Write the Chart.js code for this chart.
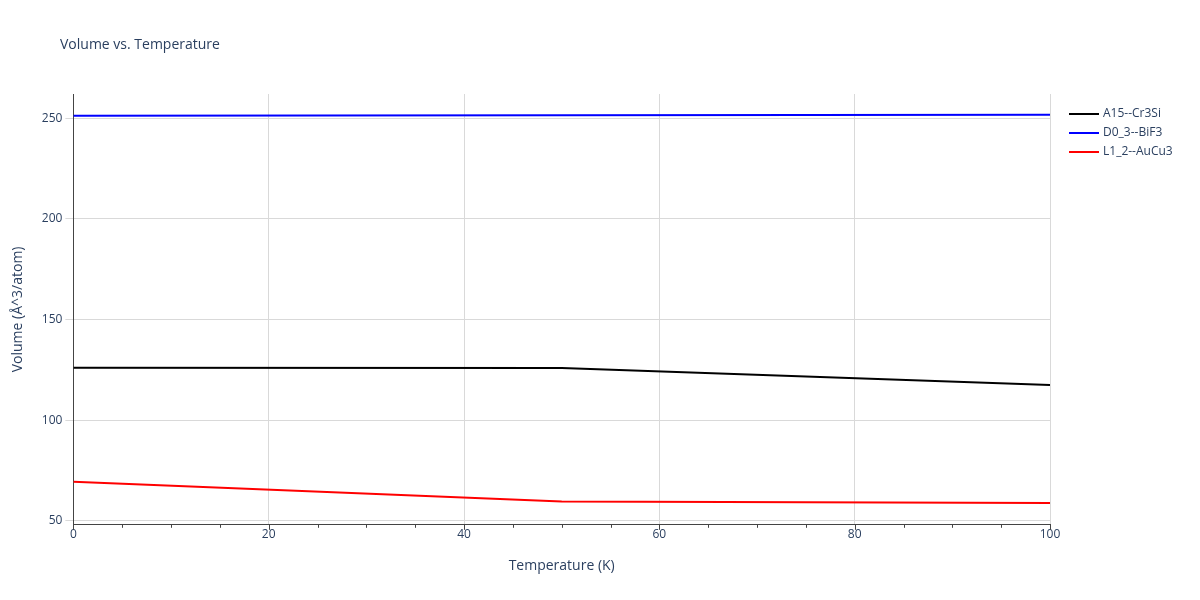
<!DOCTYPE html>
<html>
<head>
<meta charset="utf-8">
<script src="https://cdn.jsdelivr.net/npm/chart.js@4"></script>
<style>
  body { margin: 0; background: #fff; }
  #wrap { width: 1200px; height: 600px; }
</style>
</head>
<body>
<div id="wrap"><canvas id="chart" width="1200" height="600"></canvas></div>
<script>
// dados
const temps = [0, 50, 100];
const a15 = [126.0, 125.9, 117.4];
const d03 = [251.2, 251.4, 251.7];
const l12 = [69.4, 59.6, 58.8];
const seriesNames = ['A15--Cr3Si', 'D0_3--BiF3', 'L1_2--AuCu3'];
const seriesColors = ['#000000', '#0000ff', '#ff0000'];

function pts(ys) { return temps.map((t, i) => ({ x: t, y: ys[i] })); }

const fontFam = '"Open Sans", "Noto Sans", sans-serif';
const axisColor = '#2a3f5f';

// titulo e legenda desenhados à mão (estilo plotly)
const extras = {
  id: 'extras',
  afterDraw(chart) {
    const ctx = chart.ctx;
    ctx.save();
    ctx.fillStyle = axisColor;
    ctx.font = '14px ' + fontFam;
    ctx.textBaseline = 'middle';
    ctx.fillText('Volume vs. Temperature', 60, 45);
    ctx.font = '12px ' + fontFam;
    seriesNames.forEach((n, i) => {
      const y = 114 + i * 19;
      ctx.strokeStyle = seriesColors[i];
      ctx.lineWidth = 2;
      ctx.beginPath(); ctx.moveTo(1069, y); ctx.lineTo(1099, y); ctx.stroke();
      ctx.fillStyle = axisColor;
      ctx.fillText(n, 1103, y);
    });
    // minor ticks do eixo x
    const xs = chart.scales.x, bottom = chart.chartArea.bottom;
    ctx.strokeStyle = '#444'; ctx.lineWidth = 1;
    for (let v = 0; v <= 100; v += 5) {
      const px = Math.round(xs.getPixelForValue(v)) + 0.5;
      ctx.beginPath(); ctx.moveTo(px, bottom); ctx.lineTo(px, bottom + (v % 20 === 0 ? 5 : 3)); ctx.stroke();
    }
    ctx.restore();
  }
};

new Chart(document.getElementById('chart').getContext('2d'), {
  type: 'line',
  data: {
    datasets: seriesNames.map((n, i) => ({
      label: n, data: pts([a15, d03, l12][i]),
      borderColor: seriesColors[i], backgroundColor: seriesColors[i]
    }))
  },
  plugins: [extras],
  options: {
    responsive: false,
    animation: false,
    layout: { padding: { left: 6, right: 150, top: 94, bottom: 22 } },
    elements: { point: { radius: 0 }, line: { borderWidth: 2, tension: 0 } },
    plugins: { legend: { display: false }, tooltip: { enabled: false } },
    scales: {
      x: {
        type: 'linear', min: 0, max: 100,
        ticks: { stepSize: 20, color: axisColor, font: { family: fontFam, size: 12 } },
        grid: { color: '#d9d9d9', drawTicks: false },
        border: { color: '#444', display: true },
        title: { display: true, text: 'Temperature (K)', color: axisColor, font: { family: fontFam, size: 14 }, padding: { top: 12 } }
      },
      y: {
        min: 48, max: 262,
        afterBuildTicks: axis => { axis.ticks = [50, 100, 150, 200, 250].map(v => ({ value: v })); },
        ticks: { color: axisColor, font: { family: fontFam, size: 12 } },
        grid: { color: '#d9d9d9' },
        border: { color: '#444', display: true },
        title: { display: true, text: 'Volume (Å^3/atom)', color: axisColor, font: { family: fontFam, size: 14 }, padding: { bottom: 12 } }
      }
    }
  }
});
</script>
</body>
</html>
